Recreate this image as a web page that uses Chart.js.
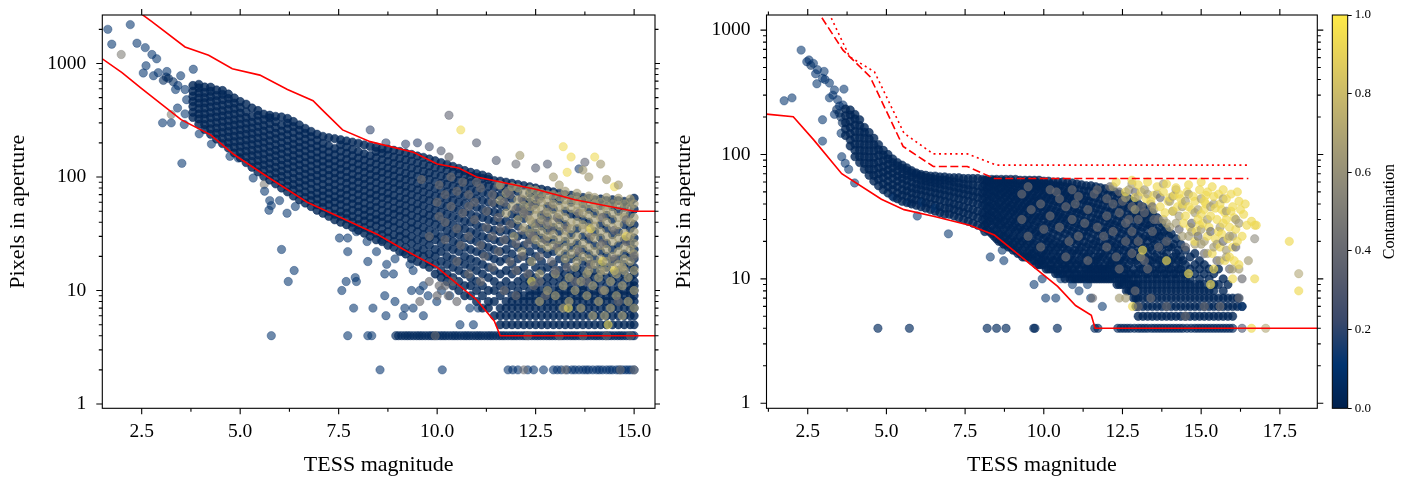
<!DOCTYPE html>
<html>
<head>
<meta charset="utf-8">
<script src="https://cdn.jsdelivr.net/npm/chart.js@4.4.1/dist/chart.umd.min.js"></script>
<style>
  body { margin: 0; background: #fff; width: 1409px; height: 488px; position: relative; overflow: hidden; }
  canvas { position: absolute; top: 0; }
  #left { left: 0; }
  #right { left: 660px; }
  #bar { left: 1325px; }
</style>
</head>
<body>
<canvas id="left" width="660" height="488"></canvas>
<canvas id="right" width="665" height="488"></canvas>
<canvas id="bar" width="84" height="488"></canvas>
<script>
// ---- ticks ----
var xTicksLeft = [2.5, 5.0, 7.5, 10.0, 12.5, 15.0];
var xTicksRight = [2.5, 5.0, 7.5, 10.0, 12.5, 15.0, 17.5];
var yTicks = [1, 10, 100, 1000];
var barTicks = [0, 0.2, 0.4, 0.6, 0.8, 1.0];

// ---- red aperture limits [TESS mag, pixels] ----
var leftUpper = [[2.45, 2800], [2.75, 2350], [3.6, 1400], [4.2, 1180], [4.8, 900], [5.5, 790], [6.2, 590], [6.85, 470], [7.05, 400], [7.6, 260], [8.3, 205], [9.4, 165], [10.0, 130], [10.55, 120], [11.0, 100], [12.5, 78], [13.5, 63], [15.0, 50], [15.6, 50]];
var leftLower = [[1.5, 1100], [2.0, 830], [2.5, 600], [3.5, 320], [4.25, 235], [4.85, 157], [5.7, 100], [6.7, 60], [7.55, 44], [8.5, 31], [9.15, 23], [10.0, 16], [10.5, 11.5], [11.0, 8.3], [11.45, 5.4], [11.6, 4], [15.6, 4]];
var rightLower = [[1.19, 211], [2.04, 201], [2.69, 131], [3.58, 70], [4.84, 43.6], [5.56, 36], [6.56, 31.6], [7.64, 27], [8.43, 22.5], [9.15, 16], [10.44, 8.7], [11.01, 6.1], [11.51, 5.1], [11.63, 4], [18.8, 4]];
var rightDashed = [[2.75, 1500], [3.62, 690], [4.48, 422], [5.53, 116], [6.49, 80], [7.57, 80], [8.43, 64], [16.5, 64]];
var rightDotted = [[3.1, 1500], [3.83, 611], [4.62, 462], [5.56, 148], [6.49, 101], [7.57, 101], [8.5, 82], [16.5, 82]];

// ---- contamination of each star group ----
var cNavy = 0.03, cGrey = 0.42, cKhaki = 0.66, cYellow = 0.93;

// ---- left panel: [mag, pixels...] per column ----
var leftCore = [
  [3.8, 335, 372, 418, 462, 515, 570, 640],
  [3.95, 292, 325, 360, 402, 448, 497, 552, 610, 655],
  [4.1, 262, 290, 326, 361, 405, 451, 500, 556, 620],
  [4.25, 238, 266, 297, 333, 370, 414, 462, 512, 570, 618],
  [4.4, 216, 243, 270, 303, 338, 377, 421, 470, 523, 585],
  [4.55, 197, 220, 247, 276, 308, 345, 384, 430, 480, 535, 578],
  [4.7, 180, 201, 225, 252, 281, 314, 352, 393, 440, 492, 538],
  [4.85, 163, 183, 205, 229, 256, 287, 320, 358, 401, 448, 497],
  [5.0, 148, 166, 186, 208, 233, 261, 292, 327, 366, 410, 462],
  [5.15, 134, 151, 169, 190, 212, 238, 266, 298, 334, 375, 438],
  [5.3, 122, 137, 154, 172, 193, 216, 242, 271, 304, 341, 405],
  [5.45, 111, 125, 140, 157, 176, 197, 221, 248, 278, 312, 350, 385],
  [5.6, 101, 114, 128, 143, 160, 180, 202, 226, 254, 285, 320, 358],
  [5.75, 94, 105, 118, 132, 148, 166, 186, 209, 234, 263, 296, 332, 350],
  [5.9, 87, 97, 109, 122, 137, 154, 172, 193, 217, 243, 273, 307, 342],
  [6.05, 80, 90, 101, 113, 127, 142, 160, 179, 201, 226, 254, 286, 338],
  [6.2, 74, 83, 93, 105, 118, 132, 148, 166, 187, 210, 236, 265, 298, 328],
  [6.35, 68, 77, 86, 97, 109, 123, 138, 155, 174, 195, 219, 247, 278, 308],
  [6.5, 63, 71, 80, 90, 101, 114, 128, 144, 162, 182, 204, 230, 258, 288],
  [6.65, 59, 66, 74, 84, 94, 106, 119, 134, 151, 170, 191, 215, 242, 268],
  [6.8, 55, 62, 69, 78, 88, 99, 111, 125, 141, 158, 178, 200, 226, 252],
  [6.95, 51, 57, 64, 72, 81, 92, 103, 116, 131, 147, 166, 187, 211, 238],
  [7.1, 48, 54, 60, 68, 76, 86, 97, 109, 123, 138, 156, 176, 198, 228],
  [7.25, 45, 50, 57, 64, 72, 81, 91, 103, 116, 131, 147, 166, 188, 222],
  [7.4, 42, 47, 53, 60, 67, 76, 86, 97, 109, 123, 139, 157, 178, 218],
  [7.55, 40, 45, 50, 57, 64, 72, 81, 92, 104, 117, 132, 149, 169, 192, 213],
  [7.7, 38, 43, 48, 54, 61, 69, 78, 88, 99, 112, 126, 143, 162, 184, 208],
  [7.85, 36, 40, 45, 51, 58, 65, 74, 83, 94, 106, 120, 136, 154, 175, 203],
  [8.0, 34, 38, 43, 49, 55, 62, 70, 79, 90, 101, 115, 130, 147, 167, 198],
  [8.15, 32, 36, 41, 46, 52, 59, 67, 76, 86, 97, 110, 124, 141, 160, 192],
  [8.3, 30, 34, 39, 44, 50, 56, 64, 72, 82, 93, 105, 119, 135, 154, 186],
  [8.45, 28, 32, 37, 42, 47, 54, 61, 69, 78, 89, 101, 114, 130, 148, 168, 183],
  [8.6, 27, 31, 35, 40, 45, 51, 58, 66, 75, 85, 97, 110, 125, 142, 162, 178],
  [8.75, 25, 29, 33, 38, 43, 49, 56, 64, 72, 82, 93, 106, 120, 137, 156, 176],
  [8.9, 24, 27, 31, 36, 41, 47, 53, 61, 69, 79, 90, 102, 116, 132, 150, 172],
  [9.05, 22, 26, 30, 34, 39, 45, 51, 58, 66, 76, 86, 98, 112, 128, 146, 168],
  [9.2, 21, 24, 28, 32, 37, 43, 49, 56, 64, 73, 83, 95, 108, 124, 142, 163],
  [9.35, 19, 22, 26, 30, 35, 40, 46, 53, 61, 70, 80, 92, 105, 120, 138, 158],
  [9.5, 18, 21, 24, 28, 33, 38, 44, 51, 58, 67, 77, 88, 101, 116, 133, 153],
  [9.65, 17, 20, 23, 27, 31, 36, 42, 48, 56, 64, 74, 85, 98, 112, 129, 149],
  [9.8, 16, 18, 21, 25, 29, 34, 40, 46, 53, 62, 71, 82, 95, 109, 125, 144],
  [9.95, 14, 17, 20, 23, 28, 32, 38, 44, 51, 59, 68, 79, 91, 105, 121, 139],
  [10.1, 13, 15, 18, 22, 26, 30, 36, 42, 49, 57, 66, 76, 88, 102, 118, 134],
  [10.25, 12, 14, 17, 20, 24, 29, 34, 40, 47, 55, 64, 74, 86, 99, 114, 129],
  [10.4, 11, 13, 16, 19, 23, 27, 32, 38, 45, 53, 62, 72, 83, 96, 110, 124],
  [10.55, 10, 12, 15, 18, 22, 26, 31, 36, 43, 51, 60, 70, 81, 93, 107, 119],
  [10.7, 9, 11, 14, 17, 20, 24, 29, 35, 41, 49, 58, 68, 79, 91, 104, 114],
  [10.85, 9, 11, 13, 16, 19, 23, 28, 33, 40, 47, 56, 66, 77, 89, 101, 110],
  [11.0, 8, 10, 12, 15, 18, 22, 27, 32, 38, 45, 54, 64, 75, 87, 99, 107],
  [11.15, 7, 9, 11, 14, 17, 21, 25, 30, 36, 44, 52, 62, 73, 85, 97, 104],
  [11.3, 7, 8, 10, 13, 16, 20, 24, 29, 35, 42, 50, 60, 71, 83, 95, 100],
  [11.45, 6, 8, 10, 12, 15, 19, 23, 28, 34, 41, 49, 58, 69, 81, 93],
  [11.6, 5, 6, 7, 9, 11, 14, 18, 22, 27, 33, 40, 48, 57, 68, 80, 92],
  [11.75, 5, 6, 7, 8, 10, 12, 15, 19, 23, 28, 34, 41, 55, 66, 78, 90],
  [11.9, 5, 6, 7, 8, 9, 11, 14, 17, 21, 26, 32, 39, 47, 64, 76, 88],
  [12.05, 5, 6, 7, 8, 9, 10, 12, 15, 19, 24, 30, 37, 45, 54, 74, 86],
  [12.2, 5, 6, 7, 8, 9, 11, 13, 16, 20, 25, 31, 43, 52, 62, 84],
  [12.35, 5, 6, 7, 8, 9, 10, 12, 14, 18, 22, 28, 35, 50, 60, 72, 82],
  [12.5, 5, 6, 7, 8, 9, 10, 11, 13, 16, 20, 25, 32, 39, 58, 70, 80],
  [12.65, 5, 6, 7, 8, 9, 10, 12, 15, 18, 23, 29, 37, 46, 68, 78],
  [12.8, 5, 6, 7, 8, 9, 10, 11, 13, 16, 21, 27, 34, 44, 55, 76],
  [12.95, 5, 6, 7, 8, 9, 10, 12, 14, 17, 22, 28, 36, 52, 65, 74],
  [13.1, 5, 6, 7, 8, 9, 10, 11, 13, 15, 19, 25, 33, 42, 62, 72],
  [13.25, 5, 6, 7, 8, 9, 10, 12, 14, 17, 21, 27, 38, 50, 70],
  [13.4, 5, 6, 7, 8, 9, 10, 11, 13, 15, 19, 24, 31, 47, 60, 69],
  [13.55, 5, 6, 7, 8, 9, 10, 12, 14, 16, 20, 26, 35, 45, 67],
  [13.7, 5, 6, 7, 8, 9, 10, 11, 13, 15, 18, 23, 30, 42, 58, 66],
  [13.85, 5, 6, 7, 8, 9, 10, 12, 14, 17, 21, 28, 40, 52, 65],
  [14.0, 5, 6, 7, 8, 9, 10, 11, 13, 15, 19, 25, 33, 48, 63],
  [14.15, 5, 6, 7, 8, 9, 10, 12, 14, 17, 22, 29, 38, 56, 64],
  [14.3, 5, 6, 7, 8, 9, 10, 11, 13, 16, 20, 26, 35, 46, 62],
  [14.45, 5, 6, 7, 8, 9, 10, 12, 14, 18, 23, 31, 42, 55, 63],
  [14.6, 5, 6, 7, 8, 9, 10, 11, 13, 15, 19, 25, 33, 50, 62],
  [14.75, 5, 6, 7, 8, 9, 10, 12, 14, 17, 21, 28, 38, 54, 61],
  [14.9, 5, 6, 7, 8, 9, 10, 11, 13, 16, 20, 26, 35, 47, 60],
  [15.0, 5, 6, 7, 8, 9, 10, 11, 12, 14, 16, 19, 23, 29, 38, 52, 65]
];
var leftKhaki = [
  [11.6, 62, 85], [11.75, 48, 72], [11.9, 55, 82], [12.05, 42, 63, 80], [12.2, 36, 48, 56, 72],
  [12.35, 32, 42, 55, 66, 78], [12.5, 28, 36, 46, 52, 64, 76], [12.65, 26, 33, 42, 52, 60, 72],
  [12.8, 24, 30, 38, 49, 62, 70], [12.95, 25, 31, 40, 46, 58, 70, 100], [13.1, 22, 28, 37, 47, 54, 67, 85],
  [13.25, 19, 24, 30, 34, 44, 56, 63, 75], [13.4, 21, 27, 35, 40, 53, 64], [13.55, 18, 23, 30, 40, 50, 57, 62, 72],
  [13.7, 20, 26, 35, 38, 48, 54, 62, 115], [13.85, 15, 19, 24, 32, 36, 46, 58, 68, 100], [14.0, 17, 22, 29, 37, 42, 54, 58, 66],
  [14.15, 15, 19, 25, 33, 44, 50, 60, 130], [14.3, 18, 23, 30, 40, 52, 56, 66, 95], [14.45, 16, 20, 27, 36, 48, 58],
  [14.6, 17, 22, 29, 38, 44, 56, 65, 85], [14.75, 15, 19, 24, 32, 44, 48, 58], [14.9, 18, 23, 30, 40, 54, 64],
  [15.0, 21, 26, 33, 44, 58], [12.1, 155],
  [13.0, 9, 14], [13.2, 11, 7], [13.35, 8, 13], [13.5, 10, 16], [13.65, 7, 12], [13.8, 9, 14], [13.95, 11, 6],
  [14.1, 8, 13], [14.25, 10, 15, 6], [14.4, 7, 12], [14.55, 9, 14], [14.7, 11, 6, 16], [14.85, 8, 13], [15.0, 10, 15, 7],
  [12.6, 8, 14], [12.8, 10], [12.4, 18, 40], [12.15, 22], [11.95, 30]
];
var leftGrey = [
  [9.6, 95], [9.8, 30, 12], [10.0, 60, 9], [10.2, 40, 11], [10.3, 150], [10.5, 75, 8], [10.6, 25], [10.8, 55], [11.0, 90],
  [11.2, 20], [11.4, 60], [11.6, 35], [11.8, 75], [12.0, 15], [12.2, 50], [12.4, 30], [12.6, 12], [12.8, 40], [13.0, 15],
  [13.2, 68], [13.5, 12], [13.8, 12], [14.2, 10], [14.6, 8], [15.0, 20], [9.56, 8], [10.28, 9], [10.05, 11], [10.4, 12],
  [10.05, 45, 85], [10.2, 28, 70], [10.35, 55, 100], [10.5, 35, 18], [10.65, 48, 90], [10.8, 30, 70, 14], [10.95, 42, 60],
  [11.1, 25, 80, 12], [11.25, 50, 36], [11.4, 30, 70, 16], [11.55, 44, 85, 22], [11.7, 28, 60, 10], [11.85, 38, 18, 70],
  [12.0, 52, 26, 9], [12.15, 34, 64, 20], [12.3, 45, 14, 26], [12.45, 30, 56, 11], [12.6, 40, 20, 64], [12.75, 28, 48, 9],
  [12.9, 18, 34, 56], [13.05, 24, 44], [13.3, 16, 36], [13.6, 22, 48], [13.9, 17, 30], [14.2, 26, 44], [14.5, 19, 34], [14.8, 27, 42]
];
var leftYellow = [
  [10.6, 260], [13.2, 185], [13.4, 150], [14.0, 150], [13.3, 110], [14.5, 82], [13.33, 7], [14.34, 5], [14.5, 15],
  [14.2, 18], [12.4, 12], [13.9, 35], [14.8, 30]
];
// sparse stars [mag, pixels, contamination]
var leftSparse = [
  [1.64, 2000, .12], [2.21, 2200, .12], [1.74, 1480, .12], [1.98, 1200, .5], [2.38, 1510, .12], [2.59, 1380, .12], [2.76, 1200, .12],
  [2.88, 1100, .12], [2.61, 955, .12], [2.54, 825, .12], [2.80, 780, .12], [2.92, 830, .12], [3.14, 850, .12], [3.05, 710, .05],
  [3.30, 690, .05], [3.49, 780, .12], [3.81, 890, .12], [3.36, 590, .12], [3.60, 590, .1], [3.64, 480, .1], [3.41, 405, .12],
  [3.25, 355, .5], [3.03, 300, .12], [3.25, 300, .12], [3.60, 360, .12], [3.58, 290, .12], [3.96, 240, .12], [4.27, 195, .12],
  [3.52, 132, .12], [4.74, 152, .12], [4.95, 147, .12], [5.33, 98, .12], [5.61, 86, .5], [5.73, 51, .12], [5.79, 56, .12],
  [6.19, 48, .12], [6.05, 23, .12], [6.37, 15, .12], [6.22, 12, .12], [5.79, 4, .12], [7.73, 4, .12], [8.24, 4, .12], [8.34, 4, .12],
  [7.58, 10, .12], [7.69, 12, .12], [7.92, 13, .12], [7.95, 12, .12], [7.88, 7, .12], [8.37, 7, .12], [8.24, 18, .12], [7.73, 22, .12],
  [7.52, 29, .12], [7.73, 29, .12], [7.95, 33, .12], [8.22, 27, .12], [8.58, 28, .12], [3.18, 740, .05], [3.12, 760, .05],
  [3.42, 640, .1], [5.62, 75, .12], [5.75, 62, .12], [6.0, 62, .12], [6.4, 55, .12],
  [8.67, 9, .12], [8.93, 8, .12], [8.7, 6, .12], [9.18, 7, .12], [9.39, 7, .12], [9.65, 6, .12], [9.14, 6, .12], [9.99, 8, .12],
  [10.11, 10, .12], [10.32, 9, .12], [10.58, 5, .12], [10.92, 5, .12], [10.83, 7, .12], [11.04, 7, .12], [9.56, 10, .12],
  [9.35, 10, .12], [9.65, 11, .12], [9.77, 9, .12], [8.46, 22, .12], [8.72, 17, .12], [8.93, 19, .12], [9.31, 17, .12],
  [9.39, 15, .12], [9.14, 22, .12], [8.89, 14, .12], [8.67, 14, .12],
  [10.3, 350, .35], [11.0, 200, .3], [9.5, 200, .2], [9.2, 195, .2], [10.1, 170, .3], [12.0, 130, .4], [12.5, 120, .3],
  [12.8, 130, .3], [13.75, 135, .35], [13.6, 118, .15], [11.5, 140, .3], [8.3, 260, .2], [8.7, 200, .2], [9.8, 185, .25]
];
var leftRow4 = [8.95, 9.02, 9.1, 9.18, 9.25, 9.32, 9.4, 9.48, 9.55, 9.62, 9.7, 9.78, 9.85, 9.92, 10.0, 10.08, 10.15, 10.22, 10.3,
  10.38, 10.45, 10.52, 10.6, 10.68, 10.75, 10.82, 10.9, 10.98, 11.05, 11.12, 11.2, 11.28, 11.35, 11.42, 11.5, 11.58, 11.65, 11.72,
  11.8, 11.88, 11.95, 12.02, 12.1, 12.18, 12.25, 12.32, 12.4, 12.48, 12.55, 12.62, 12.7, 12.78, 12.85, 12.92, 13.0, 13.08, 13.15,
  13.22, 13.3, 13.38, 13.45, 13.52, 13.6, 13.68, 13.75, 13.82, 13.9, 13.98, 14.05, 14.12, 14.2, 14.28, 14.35, 14.42, 14.5, 14.58,
  14.65, 14.72, 14.8, 14.88, 14.95, 15.0];
var leftRow4Grey = [9.95, 12.3, 13.1, 13.7, 14.3, 14.9];
var leftRow2 = [8.55, 10.13, 11.8, 11.92, 12.05, 12.3, 12.45, 12.7, 12.95, 13.05, 13.15, 13.3, 13.42, 13.5, 13.6, 13.7, 13.78,
  13.85, 13.95, 14.05, 14.12, 14.2, 14.3, 14.38, 14.45, 14.55, 14.62, 14.7, 14.78, 14.85, 14.92, 15.0];
var leftRow2Grey = [12.2, 13.25, 14.65, 15.0];

// ---- right panel ----
var rightCore = [
  [3.7, 142, 160, 180, 205, 232], [3.85, 117, 131, 147, 165, 185, 208, 228], [4.0, 96, 108, 121, 136, 153, 172, 193, 210],
  [4.15, 86, 96, 108, 121, 136, 152, 171, 190], [4.3, 76, 85, 96, 107, 120, 135, 151, 165], [4.45, 68, 76, 85, 95, 107, 120, 134, 150],
  [4.6, 61, 68, 76, 85, 95, 107, 120, 135], [4.75, 56, 63, 70, 78, 87, 98, 109, 120], [4.9, 52, 58, 65, 72, 80, 89, 99, 108],
  [5.05, 49, 55, 61, 68, 75, 83, 92, 100], [5.2, 46, 52, 57, 64, 71, 78, 86, 92], [5.35, 44, 49, 55, 61, 67, 74, 81, 86],
  [5.5, 42, 47, 52, 58, 64, 70, 77, 82], [5.65, 41, 46, 51, 56, 62, 68, 74, 78], [5.8, 40, 44, 49, 54, 60, 66, 71, 74],
  [5.95, 39, 43, 48, 53, 58, 64, 69, 71], [6.1, 38, 42, 47, 52, 57, 62, 67, 69], [6.25, 37, 41, 46, 51, 56, 61, 65, 68],
  [6.4, 36, 40, 45, 50, 55, 60, 64, 67], [6.55, 35, 39, 44, 49, 54, 59, 63, 67], [6.7, 34, 38, 43, 48, 53, 58, 62, 66],
  [6.85, 33, 37, 42, 47, 52, 57, 62, 66], [7.0, 33, 37, 41, 46, 51, 56, 61, 65], [7.15, 32, 36, 40, 45, 50, 55, 60, 65],
  [7.3, 31, 35, 39, 44, 49, 54, 59, 65], [7.45, 30, 34, 38, 43, 48, 53, 58, 64], [7.6, 29, 33, 37, 42, 47, 52, 57, 64],
  [7.75, 28, 32, 36, 41, 46, 51, 57, 64], [7.9, 27, 31, 35, 40, 45, 50, 56, 64], [8.05, 26, 30, 34, 39, 44, 49, 55, 63],
  [8.2, 25, 28, 32, 37, 42, 48, 54, 60, 63], [8.35, 23, 27, 31, 35, 40, 46, 52, 58, 63], [8.5, 21, 25, 29, 33, 38, 44, 50, 56, 63],
  [8.65, 20, 23, 27, 31, 36, 42, 48, 54, 60, 63], [8.8, 19, 22, 26, 30, 35, 40, 46, 52, 58, 63], [8.95, 18, 21, 25, 29, 34, 39, 45, 51, 57, 63],
  [9.1, 17, 20, 24, 28, 32, 37, 43, 49, 56, 63], [9.25, 16, 19, 22, 26, 31, 36, 42, 48, 55, 62], [9.4, 15, 18, 21, 25, 30, 35, 40, 46, 53, 62],
  [9.55, 15, 17, 20, 24, 28, 33, 39, 45, 52, 58, 62], [9.7, 14, 16, 19, 23, 27, 32, 38, 44, 51, 57, 62], [9.85, 13, 15, 18, 22, 26, 31, 37, 43, 50, 56, 62],
  [10.0, 13, 15, 17, 21, 25, 30, 35, 41, 48, 55, 61], [10.15, 12, 14, 17, 20, 24, 29, 34, 40, 47, 54, 61], [10.3, 12, 14, 16, 19, 23, 28, 33, 39, 46, 53, 60],
  [10.45, 11, 13, 15, 18, 22, 27, 32, 38, 45, 52, 60], [10.6, 11, 13, 15, 18, 21, 26, 31, 37, 44, 51, 60], [10.75, 11, 12, 14, 17, 20, 25, 30, 36, 43, 50, 59],
  [10.9, 10, 12, 14, 16, 20, 24, 29, 35, 42, 49, 59], [11.05, 10, 11, 13, 16, 19, 23, 28, 34, 41, 48, 58], [11.2, 10, 11, 13, 15, 18, 22, 27, 33, 40, 47, 57],
  [11.35, 10, 11, 12, 15, 18, 22, 26, 32, 39, 46, 56], [11.5, 10, 11, 12, 14, 17, 21, 26, 31, 38, 46, 56], [11.65, 10, 11, 12, 14, 17, 20, 25, 30, 37, 45, 55],
  [11.8, 10, 11, 12, 14, 16, 20, 24, 30, 36, 44, 54], [11.95, 10, 11, 12, 13, 16, 19, 24, 29, 35, 43, 53], [12.1, 10, 11, 12, 13, 15, 19, 23, 28, 34, 42, 52],
  [12.25, 10, 11, 12, 13, 15, 18, 22, 27, 33, 41, 50], [12.4, 9, 10, 11, 12, 14, 17, 21, 26, 32, 40, 48], [12.55, 9, 10, 11, 12, 14, 17, 20, 25, 31, 38, 46],
  [12.7, 8, 9, 10, 11, 13, 16, 20, 24, 30, 37, 44], [12.85, 7, 8, 9, 10, 12, 15, 19, 23, 29, 35, 42],
  [13.0, 5, 6, 7, 8, 9, 10, 11, 13, 15, 18, 22, 27, 33, 40], [13.15, 5, 6, 7, 8, 9, 10, 12, 14, 17, 21, 26, 32, 38],
  [13.3, 5, 6, 7, 8, 9, 10, 11, 13, 16, 20, 25, 30, 36], [13.45, 5, 6, 7, 8, 9, 10, 12, 14, 17, 21, 26, 34],
  [13.6, 5, 6, 7, 8, 9, 10, 11, 13, 16, 20, 24, 31], [13.75, 5, 6, 7, 8, 9, 10, 12, 14, 17, 22, 28],
  [13.9, 5, 6, 7, 8, 9, 10, 11, 13, 16, 20, 25], [14.05, 5, 6, 7, 8, 9, 10, 12, 14, 18, 23], [14.2, 5, 6, 7, 8, 9, 10, 11, 13, 16, 21],
  [14.35, 5, 6, 7, 8, 9, 10, 12, 15, 19], [14.5, 5, 6, 7, 8, 9, 10, 11, 13, 17], [14.65, 5, 6, 7, 8, 9, 10, 12, 15],
  [14.8, 5, 6, 7, 8, 9, 11, 13, 16], [14.95, 5, 6, 7, 8, 9, 10, 12, 14], [15.1, 5, 6, 7, 8, 9, 11, 13], [15.25, 5, 6, 7, 8, 10, 12],
  [15.4, 5, 6, 7, 8, 9, 11], [15.55, 5, 6, 7, 9, 12], [15.7, 5, 6, 7, 8, 10], [15.85, 5, 6, 7, 9], [16.0, 5, 6, 7], [16.15, 6, 7], [16.3, 6]
];
// extra stars between the columns above, faint end of the right-hand band
var rightCoreFill = [
  [8.125, 24, 27, 30, 34, 39, 45, 51, 57, 62], [8.275, 24, 29, 33, 38, 43, 49, 55, 61], [8.425, 22, 25, 29, 34, 39, 45, 51, 57, 62],
  [8.575, 20, 23, 27, 31, 36, 41, 47, 53, 59], [8.725, 19, 22, 25, 29, 33, 38, 44, 50, 56, 61], [8.875, 18, 20, 23, 27, 32, 37, 42, 48, 54, 60],
  [9.025, 17, 19, 22, 26, 30, 35, 40, 46, 52, 59], [9.175, 16, 18, 21, 25, 29, 34, 39, 45, 51, 58], [9.325, 15, 17, 20, 24, 28, 33, 38, 44, 50, 57],
  [9.475, 15, 16, 19, 22, 27, 31, 37, 42, 49, 55, 60], [9.625, 14, 16, 18, 21, 25, 30, 35, 41, 47, 54, 60], [9.775, 13, 15, 17, 20, 24, 29, 34, 40, 46, 53, 59],
  [9.925, 13, 14, 16, 19, 23, 27, 32, 38, 45, 52, 58], [10.075, 12, 14, 16, 19, 22, 27, 32, 37, 44, 51, 58], [10.225, 12, 13, 15, 18, 21, 26, 31, 36, 43, 50, 57],
  [10.375, 11, 12, 14, 17, 20, 25, 30, 35, 42, 49, 56], [10.525, 11, 12, 14, 16, 19, 24, 29, 34, 41, 48, 56], [10.675, 10, 12, 13, 16, 19, 23, 28, 33, 40, 47, 55],
  [10.825, 10, 11, 13, 15, 18, 22, 27, 32, 39, 46, 54], [10.975, 10, 11, 12, 14, 17, 21, 26, 31, 37, 45, 53], [11.125, 10, 12, 14, 17, 20, 25, 30, 36, 44, 52],
  [11.275, 10, 11, 13, 16, 20, 24, 29, 35, 43, 51], [11.425, 10, 12, 13, 16, 19, 24, 28, 35, 42, 51], [11.575, 10, 11, 13, 15, 19, 23, 28, 34, 41, 50],
  [11.725, 10, 12, 13, 15, 18, 22, 27, 33, 40, 49], [11.875, 10, 11, 12, 15, 18, 22, 26, 32, 39, 48], [12.025, 10, 12, 14, 17, 21, 26, 31, 38, 47],
  [12.175, 10, 11, 14, 17, 20, 25, 30, 37, 46], [12.325, 9, 11, 13, 16, 19, 24, 29, 36, 44], [12.475, 9, 10, 13, 15, 19, 23, 28, 35, 42],
  [12.625, 8, 10, 12, 15, 18, 22, 27, 33, 40], [12.775, 8, 9, 11, 14, 17, 21, 26, 32, 38], [12.925, 6, 7, 9, 11, 14, 16, 20, 25, 31, 37],
  [13.075, 12, 16, 19, 24, 29, 35], [13.225, 11, 15, 18, 22, 28, 33], [13.375, 12, 14, 18, 22, 27, 32], [13.525, 11, 15, 19, 23, 29],
  [13.675, 12, 14, 18, 22, 26], [13.825, 11, 15, 19, 24], [13.975, 12, 14, 18, 22], [14.125, 11, 15, 19], [14.275, 12, 14, 17], [14.425, 11, 14]
];
var rightGrey = [
  [9.6, 36], [10.0, 25], [10.4, 50], [10.8, 20], [11.0, 40], [11.3, 28], [11.6, 48], [11.9, 22], [12.1, 55], [12.3, 15],
  [12.5, 42], [12.7, 30], [12.9, 50, 8], [13.0, 6], [13.1, 38], [13.3, 12], [13.4, 7], [13.5, 30], [13.7, 45], [13.9, 20, 6],
  [14.1, 35], [14.3, 25], [14.5, 18, 5], [14.7, 28], [14.9, 22], [15.1, 16, 6], [15.3, 24], [15.5, 14], [15.6, 6], [15.7, 20],
  [15.9, 12], [16.1, 18], [16.2, 7], [16.3, 10], [11.55, 7],
  [9.3, 30, 48], [9.5, 22, 55], [9.9, 40, 18], [10.2, 32, 52], [10.5, 26, 44], [10.7, 15, 38], [10.9, 52, 30], [11.1, 22, 46],
  [11.4, 36, 14], [11.7, 26, 52], [12.0, 44, 18, 32], [12.2, 24, 40], [12.4, 34, 50, 12], [12.6, 20, 28], [12.8, 38, 16, 24],
  [13.0, 30, 20], [13.2, 34, 14], [13.45, 24, 38], [13.65, 18, 30]
];
var rightKhaki = [
  [12.2, 55], [12.4, 7], [12.6, 45, 7], [12.8, 58], [13.0, 46], [13.2, 52], [13.4, 40], [13.6, 48], [13.8, 30, 58], [14.0, 42, 26],
  [14.2, 28, 52], [14.4, 38, 22], [14.6, 22, 48], [14.8, 34, 19], [15.0, 19, 44, 25], [15.2, 30, 16], [15.4, 18, 40], [15.6, 26, 14],
  [15.8, 15, 35], [16.0, 22, 12], [16.2, 12, 28], [13.08, 15], [16.5, 14],
  [13.5, 36], [13.9, 28], [14.3, 32], [14.7, 24], [15.1, 20], [15.5, 19], [15.9, 22], [16.1, 30], [14.1, 46], [14.5, 42],
  [14.9, 36], [15.3, 38], [15.7, 44], [13.3, 48], [12.9, 36], [12.7, 52], [15.8, 17]
];
var rightYellow = [
  [12.3, 60], [12.8, 62], [12.6, 50], [13.0, 57], [13.3, 60], [13.6, 55], [13.9, 58], [14.2, 54], [14.6, 57], [14.0, 45],
  [14.4, 40], [14.8, 42], [15.0, 60], [15.2, 50], [15.4, 46], [15.6, 40], [15.8, 44], [16.0, 38], [16.2, 42], [16.4, 40],
  [15.1, 36], [15.3, 32], [15.5, 30], [15.7, 28], [15.9, 26], [16.1, 25], [16.3, 22], [14.9, 30], [14.5, 32], [14.1, 35],
  [13.7, 38], [13.4, 42], [15.2, 22], [15.6, 18], [15.9, 15], [16.2, 13], [14.8, 20], [15.4, 12], [16.6, 29], [16.75, 27],
  [17.8, 20], [16.7, 10], [18.1, 8], [16.6, 4], [16.0, 10], [15.3, 9], [14.6, 11], [13.9, 14], [12.82, 6], [13.14, 17],
  [14.3, 48], [14.7, 36], [15.0, 33], [15.1, 42], [15.45, 37], [15.75, 34], [16.05, 31], [15.85, 21], [15.55, 24], [14.95, 27],
  [12.9, 45], [13.1, 50], [13.25, 44], [13.5, 47], [13.8, 50], [13.95, 42], [14.15, 47], [14.35, 44], [14.55, 50], [14.75, 46],
  [14.95, 52], [15.15, 47], [15.35, 55], [15.55, 48], [15.7, 52], [15.95, 48], [16.15, 50], [16.35, 33], [16.45, 27], [15.05, 28],
  [15.25, 26], [15.45, 21], [15.65, 23], [15.8, 30], [16.0, 18], [16.15, 20], [14.65, 26], [14.85, 24], [14.45, 28], [15.35, 16],
  [15.75, 14], [16.05, 14], [15.95, 35], [16.25, 36], [14.25, 38], [13.85, 34], [14.6, 38], [15.15, 40], [15.65, 36]
];
var rightSparse = [
  [2.29, 690, .12], [2.47, 557, .1], [2.54, 575, .1], [2.68, 540, .12], [2.81, 480, .12], [3.02, 465, .12], [2.79, 370, .12],
  [2.97, 410, .12], [3.19, 375, .12], [3.35, 330, .12], [3.19, 285, .12], [3.65, 335, .12], [1.75, 270, .12], [2.0, 285, .12],
  [3.45, 275, .1], [3.51, 245, .1], [3.62, 250, .1], [3.35, 210, .1], [2.97, 190, .12], [2.97, 128, .12], [3.56, 148, .12],
  [3.58, 96, .12], [3.69, 85, .12], [3.8, 76, .12], [3.99, 59, .12], [5.25, 45, .12], [5.73, 41, .12], [5.98, 32, .12],
  [6.14, 41, .12], [6.97, 23, .12], [6.56, 37, .12], [8.3, 15, .12], [8.68, 17, .12], [2.6, 520, .05], [2.75, 445, .1],
  [3.05, 400, .1], [3.3, 300, .1], [3.55, 200, .05], [3.5, 215, .05], [3.6, 180, .05], [3.42, 230, .05],
  [8.73, 14, .12], [9.69, 9, .12], [10.06, 7, .12], [10.38, 7, .12], [11.49, 7, .12], [11.86, 6, .12], [11.12, 8, .12],
  [11.39, 9, .12], [10.91, 9, .12], [10.54, 10, .12], [9.95, 10, .12],
  [16.3, 4, .25], [17.05, 4, .7], [16.7, 21, .55], [18.1, 11, .7], [16.3, 6, .12], [16.2, 7, .15], [16.7, 27, .9]
];
var rightRow4 = [4.73, 5.73, 8.2, 8.5, 8.8, 9.68, 9.72, 10.43, 11.62, 11.72, 12.35, 12.45, 12.55, 12.65, 12.75, 12.88, 13.0, 13.1,
  13.2, 13.3, 13.42, 13.52, 13.62, 13.72, 13.82, 13.92, 14.02, 14.12, 14.22, 14.32, 14.42, 14.55, 14.68, 14.8, 14.9, 15.0, 15.1,
  15.2, 15.3, 15.4, 15.5, 15.6, 15.7, 15.8, 15.9, 16.0];

// ---- cividis ----
var cividisHex = ['#00204d', '#00336f', '#39486b', '#575c6d', '#707173', '#8a8779', '#a69d75', '#c4b56c', '#e4cf5b', '#ffea46'];
function hexRgb(h) { return [1, 3, 5].map(function(i){ return parseInt(h.substr(i, 2), 16); }); }
function cividis(t, a) {
  t = Math.max(0, Math.min(1, t)) * 9;
  var i = Math.min(8, Math.floor(t)), f = t - i;
  var c0 = hexRgb(cividisHex[i]), c1 = hexRgb(cividisHex[i + 1]);
  var c = c0.map(function(v, k){ return Math.round(v + (c1[k] - v) * f); });
  return 'rgba(' + c[0] + ',' + c[1] + ',' + c[2] + ',' + a + ')';
}

// opacity: crowded groups a bit stronger so the dense band reads as in the original
var A_CORE = 0.8, A_MIX = 0.66, A_SPARSE = 0.58;

function addColumns(out, cols, c, a) { cols.forEach(function(col){ for (var k = 1; k < col.length; k++) out.push({x: col[0], y: col[k], c: c, a: a}); }); }
function addRow(out, mags, p, c, a) { mags.forEach(function(m){ out.push({x: m, y: p, c: c, a: a}); }); }
function addSparse(out, list) { list.forEach(function(s){ out.push({x: s[0], y: s[1], c: s[2], a: A_SPARSE}); }); }
function byMag(a, b) { return a.x - b.x; }

// the navy band first, the contaminated stars over it
var leftBase = [], leftTop = [];
addColumns(leftBase, leftCore, cNavy, A_CORE);
addRow(leftBase, leftRow4, 4, 0.05, A_MIX);
addRow(leftBase, leftRow2, 2, 0.1, A_SPARSE);
addSparse(leftBase, leftSparse);
addColumns(leftTop, leftKhaki, cKhaki, A_MIX);
addColumns(leftTop, leftGrey, cGrey, A_MIX);
addColumns(leftTop, leftYellow, cYellow, A_SPARSE);
addRow(leftTop, leftRow4Grey, 4, cGrey, A_SPARSE);
addRow(leftTop, leftRow2Grey, 2, cGrey, A_SPARSE);
var leftStars = leftBase.sort(byMag).concat(leftTop.sort(byMag));

var rightBase = [], rightTop = [];
addColumns(rightBase, rightCore, cNavy, A_CORE);
addColumns(rightBase, rightCoreFill, cNavy, A_CORE);
addRow(rightBase, rightRow4, 4, 0.05, A_MIX);
addSparse(rightBase, rightSparse);
addColumns(rightTop, rightKhaki, cKhaki, A_MIX);
addColumns(rightTop, rightGrey, cGrey, A_MIX);
addColumns(rightTop, rightYellow, cYellow, A_MIX);
var rightStars = rightBase.sort(byMag).concat(rightTop.sort(byMag));

var FONT = "'Liberation Serif', 'DejaVu Serif', serif";

// box with outward major/minor ticks on all four sides
var frame = {
  id: 'frame',
  afterDraw: function(chart) {
    var ctx = chart.ctx, a = chart.chartArea, x = chart.scales.x, y = chart.scales.y;
    ctx.save();
    ctx.strokeStyle = '#000';
    ctx.lineWidth = 1.1;
    ctx.beginPath();
    function xt(v, len) { var p = x.getPixelForValue(v); ctx.moveTo(p, a.bottom); ctx.lineTo(p, a.bottom + len); ctx.moveTo(p, a.top); ctx.lineTo(p, a.top - len); }
    function yt(v, len) { var p = y.getPixelForValue(v); ctx.moveTo(a.left, p); ctx.lineTo(a.left - len, p); ctx.moveTo(a.right, p); ctx.lineTo(a.right + len, p); }
    x.ticks.forEach(function(t){ xt(t.value, 6); });
    for (var v = 1.25; v < x.max; v += 2.5) if (v > x.min) xt(v, 3.5);
    y.ticks.forEach(function(t){ yt(t.value, 6); });
    [0.1, 1, 10, 100, 1000].forEach(function(d){
      for (var k = 2; k < 10; k++) { var m = k * d; if (m > y.min && m < y.max) yt(m, 3.5); }
    });
    ctx.stroke();
    ctx.strokeRect(a.left, a.top, a.right - a.left, a.bottom - a.top);
    ctx.restore();
  }
};

function lineSet(pts, dash) {
  return {
    data: pts.map(function(p){ return {x: p[0], y: p[1]}; }),
    showLine: true, borderColor: '#ff0000', borderWidth: 1.6, borderDash: dash,
    pointRadius: 0, pointHoverRadius: 0, fill: false, tension: 0, order: 0
  };
}
function starSet(stars) {
  var cols = stars.map(function(s){ return cividis(s.c, s.a); });
  return {
    data: stars.map(function(s){ return {x: s.x, y: s.y}; }),
    pointRadius: 4.2, pointHoverRadius: 4.2, pointBorderWidth: 0.6,
    pointBackgroundColor: cols, pointBorderColor: cols, order: 1
  };
}

function panel(id, cfg) {
  return new Chart(document.getElementById(id), {
    type: 'scatter',
    data: { datasets: cfg.lines.concat([starSet(cfg.stars)]) },
    options: {
      responsive: false, animation: false, events: [],
      layout: { padding: { left: 0, top: 15, right: cfg.padRight, bottom: 0 } },
      plugins: { legend: { display: false }, tooltip: { enabled: false } },
      scales: {
        x: {
          type: 'linear', min: cfg.xMin, max: cfg.xMax,
          grid: { display: false, drawTicks: false }, border: { display: false },
          afterBuildTicks: function(s){ s.ticks = cfg.xTicks.map(function(v){ return {value: v}; }); },
          afterFit: function(s){ s.height = 79.7; s.paddingLeft = 0; s.paddingRight = 0; },
          ticks: { callback: function(v){ return v.toFixed(1); }, font: { family: FONT, size: 19.5 }, color: '#000', padding: 12, maxRotation: 0, autoSkip: false },
          title: { display: true, text: 'TESS magnitude', font: { family: FONT, size: 22 }, color: '#000', padding: { top: 0, bottom: 10 } }
        },
        y: {
          type: 'logarithmic', min: cfg.yMin, max: cfg.yMax,
          grid: { display: false, drawTicks: false }, border: { display: false },
          afterBuildTicks: function(s){ s.ticks = yTicks.map(function(v){ return {value: v}; }); },
          afterFit: function(s){ s.width = cfg.yWidth; s.paddingTop = 0; s.paddingBottom = 0; },
          ticks: { callback: function(v){ return String(v); }, font: { family: FONT, size: 19.5 }, color: '#000', padding: 16, autoSkip: false },
          title: { display: true, text: 'Pixels in aperture', font: { family: FONT, size: 22 }, color: '#000', padding: { top: cfg.titlePad, bottom: 0 } }
        }
      }
    },
    plugins: [frame]
  });
}

panel('left', {
  stars: leftStars, lines: [lineSet(leftUpper, []), lineSet(leftLower, [])],
  xMin: 1.5, xMax: 15.53, yMin: 0.917, yMax: 2675, xTicks: xTicksLeft,
  yWidth: 102.3, padRight: 5, titlePad: 5
});
panel('right', {
  stars: rightStars, lines: [lineSet(rightLower, []), lineSet(rightDashed, [8, 3.5]), lineSet(rightDotted, [2, 3.5])],
  xMin: 1.19, xMax: 18.69, yMin: 0.91, yMax: 1322, xTicks: xTicksRight,
  yWidth: 106.5, padRight: 7.7, titlePad: 10.8
});

// colour bar
var colorbar = {
  id: 'colorbar',
  beforeDatasetsDraw: function(chart) {
    var ctx = chart.ctx, a = chart.chartArea;
    var g = ctx.createLinearGradient(0, a.bottom, 0, a.top);
    cividisHex.forEach(function(h, i){ g.addColorStop(i / 9, h); });
    ctx.save();
    ctx.fillStyle = g;
    ctx.fillRect(a.left, a.top, a.right - a.left, a.bottom - a.top);
    ctx.strokeStyle = '#000';
    ctx.lineWidth = 1;
    ctx.strokeRect(a.left, a.top, a.right - a.left, a.bottom - a.top);
    ctx.translate(64.7, (a.top + a.bottom) / 2);
    ctx.rotate(-Math.PI / 2);
    ctx.fillStyle = '#000';
    ctx.font = '16px ' + FONT;
    ctx.textAlign = 'center';
    ctx.textBaseline = 'middle';
    ctx.fillText('Contamination', 0, 0);
    ctx.restore();
  }
};
new Chart(document.getElementById('bar'), {
  type: 'scatter',
  data: { datasets: [] },
  options: {
    responsive: false, animation: false, events: [],
    layout: { padding: { left: 7.3, top: 15, right: 0, bottom: 79.7 } },
    plugins: { legend: { display: false }, tooltip: { enabled: false } },
    scales: {
      x: { display: false, min: 0, max: 1 },
      y: {
        position: 'right', min: 0, max: 1,
        afterBuildTicks: function(s){ s.ticks = barTicks.map(function(v){ return {value: v}; }); },
        afterFit: function(s){ s.width = 61.3; s.paddingTop = 0; s.paddingBottom = 0; },
        ticks: { callback: function(v){ return v.toFixed(1); }, font: { family: FONT, size: 13 }, color: '#000', padding: 3 },
        grid: { drawOnChartArea: false, drawTicks: true, tickLength: 4, color: '#000', lineWidth: 1 },
        border: { display: false }
      }
    }
  },
  plugins: [colorbar]
});
</script>
</body>
</html>
